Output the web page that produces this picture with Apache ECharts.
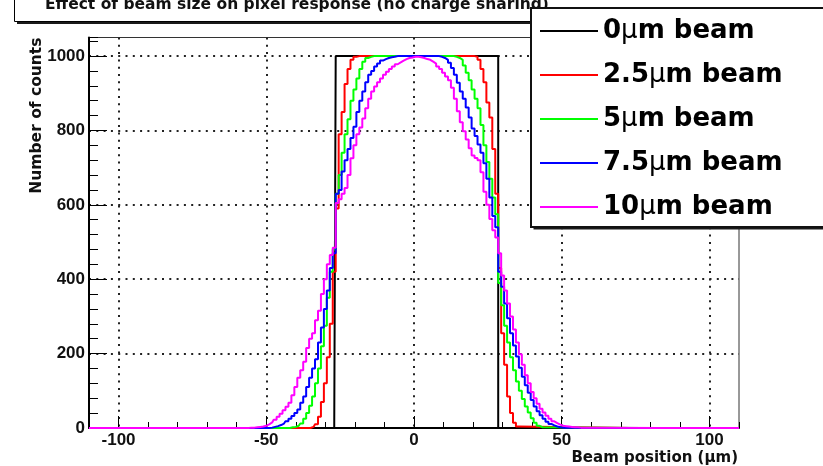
<!DOCTYPE html>
<html>
<head>
<meta charset="utf-8">
<script src="https://cdn.jsdelivr.net/npm/echarts@6/dist/echarts.min.js"></script>
<style>
  html, body { margin: 0; padding: 0; background: #ffffff; }
  #chart { width: 823px; height: 466px; }
</style>
</head>
<body>
<div id="chart"></div>
<script>
// ---- texts ----
const chartTitle = 'Effect of beam size on pixel response (no charge sharing)';
const xAxisTitle = 'Beam position (μm)';
const yAxisTitle = 'Number of counts';

// ---- axis ranges and tick steps ----
const xRange = [-110, 110];
const yRange = [0, 1050];
const xLabelRange = [-100, 100];
const xLabelStep = 50;
const xMinorStep = 10;
const yLabelRange = [0, 1000];
const yLabelStep = 200;
const yMinorStep = 40;

// ---- histograms: 1 um bins, value = counts per bin; bins outside each list are empty ----
const beamNames = ['0μm beam', '2.5μm beam', '5μm beam', '7.5μm beam', '10μm beam'];
const beamColors = ['#000000', '#ff0000', '#00ff00', '#0000ff', '#ff00ff'];

const beam0Start = -26;
const beam0 = [
  1000,1000,1000,1000,1000,1000,1000,1000,1000,1000,
  1000,1000,1000,1000,1000,1000,1000,1000,1000,1000,
  1000,1000,1000,1000,1000,1000,1000,1000,1000,1000,
  1000,1000,1000,1000,1000,1000,1000,1000,1000,1000,
  1000,1000,1000,1000,1000,1000,1000,1000,1000,1000,
  1000,1000,1000,1000,1000
];

const beam25Start = -34;
const beam25 = [
  3,10,30,70,120,190,280,420,
  590,790,850,925,965,990,998,
  1000,1000,1000,1000,1000,1000,1000,1000,1000,1000,
  1000,1000,1000,1000,1000,1000,1000,1000,1000,1000,
  1000,1000,1000,1000,1000,1000,1000,1000,1000,1000,
  1000,1000,1000,1000,1000,1000,1000,1000,1000,1000,
  998,990,965,930,875,835,750,630,
  430,255,170,85,40,14,4
];

const beam5Start = -41;
const beam5 = [
  2,3,6,12,25,40,60,85,120,160,220,275,350,420,480,
  630,680,740,790,830,880,910,940,965,985,995,998,
  1000,1000,1000,1000,1000,1000,1000,1000,1000,1000,
  1000,1000,1000,1000,1000,1000,1000,1000,1000,1000,
  1000,1000,1000,1000,1000,1000,1000,1000,
  998,995,990,975,955,935,910,885,860,815,760,715,670,620,575,
  390,330,275,230,190,155,125,100,78,58,42,26,14,6,2
];

const beam75Start = -48;
const beam75 = [
  1,3,5,8,12,18,25,32,40,50,68,85,110,135,160,185,230,270,320,370,430,470,
  630,640,690,720,750,780,810,850,880,905,930,950,960,972,980,988,992,995,997,998,
  1000,1000,1000,1000,1000,1000,1000,1000,1000,1000,1000,1000,1000,1000,1000,
  998,995,990,982,968,950,928,905,885,862,835,805,785,762,740,712,670,620,570,540,
  420,380,335,295,255,222,192,162,138,115,95,75,58,45,34,25,17,11,7,4,2,1
];

const beam10Start = -55;
const beam10 = [
  1,1,2,3,4,6,10,15,22,30,38,48,57,68,88,110,135,155,178,215,240,255,290,315,360,400,440,465,485,
  605,615,630,645,680,725,760,790,808,832,860,885,905,918,930,940,950,958,965,972,
  978,983,988,992,995,996,998,998,997,995,992,990,985,980,972,965,955,945,935,915,
  885,852,822,798,776,752,733,726,720,688,635,600,562,532,512,
  470,410,370,335,300,265,230,198,170,142,120,97,80,65,52,42,33,25,18,13,9,6,5,4,3,2,2,1,1
];

const beamStarts = [beam0Start, beam25Start, beam5Start, beam75Start, beam10Start];
const beamCounts = [beam0, beam25, beam5, beam75, beam10];

// turn a list of bin counts into step-line points, empty bins reaching to the axis range ends
function histPoints(start, counts) {
  const pts = [[xRange[0], 0], [start - 1, 0]];
  counts.forEach((c, i) => pts.push([start + i, c]));
  pts.push([start + counts.length, 0], [xRange[1], 0]);
  return pts;
}

// ---- layout of the frame ----
const W = 823, H = 466;
const frame = { left: 89, right: 84, top: 37.5, bottom: 38 };
const pxX = (W - frame.left - frame.right) / (xRange[1] - xRange[0]);
const pxY = (H - frame.top - frame.bottom) / (yRange[1] - yRange[0]);

const labelFont = { fontFamily: 'Arial', fontWeight: 'bold', fontSize: 17, color: '#111',
                    formatter: v => String(v) };
const dotted = { color: '#222', width: 2, type: [2, 5.3] };

const chart = echarts.init(document.getElementById('chart'), null, { renderer: 'canvas' });

chart.setOption({
  animation: false,
  backgroundColor: '#ffffff',
  grid: [
    // data frame
    { left: frame.left, right: frame.right, top: frame.top, bottom: frame.bottom,
      show: true, borderColor: '#333', borderWidth: 1, backgroundColor: 'transparent' },
    // labelled x ticks and vertical grid lines
    { left: frame.left + (xLabelRange[0] - xRange[0]) * pxX,
      right: frame.right + (xRange[1] - xLabelRange[1]) * pxX,
      top: frame.top, bottom: frame.bottom },
    // labelled y ticks and horizontal grid lines
    { left: frame.left, right: frame.right,
      top: frame.top + (yRange[1] - yLabelRange[1]) * pxY, bottom: frame.bottom }
  ],
  xAxis: [
    { gridIndex: 0, type: 'value', min: xRange[0], max: xRange[1], interval: xMinorStep,
      axisLine: { show: true, onZero: false, lineStyle: { color: '#000', width: 2 } },
      axisTick: { show: true, inside: true, length: 6, lineStyle: { color: '#000', width: 1 } },
      axisLabel: { show: false }, splitLine: { show: false } },
    { gridIndex: 1, type: 'value', min: xLabelRange[0], max: xLabelRange[1], interval: xLabelStep,
      axisLine: { show: false },
      axisTick: { show: true, inside: true, length: 12, lineStyle: { color: '#000', width: 1 } },
      axisLabel: Object.assign({ show: true, margin: 4 }, labelFont),
      splitLine: { show: true, lineStyle: dotted } },
    { gridIndex: 2, type: 'value', min: 0, max: 1, show: false }
  ],
  yAxis: [
    { gridIndex: 0, type: 'value', min: yRange[0], max: yRange[1], interval: yMinorStep,
      axisLine: { show: true, onZero: false, lineStyle: { color: '#000', width: 2 } },
      axisTick: { show: true, inside: true, length: 9, lineStyle: { color: '#000', width: 1 } },
      axisLabel: { show: false }, splitLine: { show: false } },
    { gridIndex: 1, type: 'value', min: 0, max: 1, show: false },
    { gridIndex: 2, type: 'value', min: yLabelRange[0], max: yLabelRange[1], interval: yLabelStep,
      axisLine: { show: false },
      axisTick: { show: true, inside: true, length: 18, lineStyle: { color: '#000', width: 1 } },
      axisLabel: Object.assign({ show: true, margin: 4 }, labelFont),
      splitLine: { show: true, lineStyle: dotted } }
  ],
  legend: {
    orient: 'vertical', left: 535, top: 11, z: 200,
    itemWidth: 58, itemHeight: 2, itemGap: 14, icon: 'rect', selectedMode: false,
    data: beamNames,
    formatter: n => n.replace('μ', '{mu|μ}'),
    textStyle: {
      fontFamily: 'DejaVu Sans', fontWeight: 'bold', fontSize: 26, color: '#000', lineHeight: 30,
      rich: { mu: { fontFamily: 'DejaVu Sans', fontWeight: 'normal', fontSize: 26, color: '#000' } }
    }
  },
  graphic: [
    // title pave with its shadow
    { type: 'rect', z: 100, shape: { x: 17, y: -10, width: 900, height: 34 }, style: { fill: '#1a1a1a' } },
    { type: 'rect', z: 101, shape: { x: 14.5, y: -10, width: 900, height: 31.5 },
      style: { fill: '#fff', stroke: '#000', lineWidth: 1 } },
    { type: 'text', z: 102, x: 45, y: 5,
      style: { text: chartTitle, font: 'bold 15.5px "DejaVu Sans"', fill: '#111',
               align: 'left', verticalAlign: 'middle', textAlign: 'left', textVerticalAlign: 'middle' } },
    // legend pave with its shadow
    { type: 'rect', z: 150, shape: { x: 533.5, y: 10.5, width: 320, height: 219 }, style: { fill: '#1a1a1a' } },
    { type: 'rect', z: 151, shape: { x: 531, y: 8, width: 320, height: 219 },
      style: { fill: '#fff', stroke: '#111', lineWidth: 2 } },
    // axis titles
    { type: 'text', z: 10, x: W - frame.right - 1, y: 458,
      style: { text: xAxisTitle, font: 'bold 15px "DejaVu Sans"', fill: '#111',
               align: 'right', verticalAlign: 'middle', textAlign: 'right', textVerticalAlign: 'middle' } },
    { type: 'text', z: 10, x: 37, y: frame.top, rotation: Math.PI / 2,
      style: { text: yAxisTitle, font: 'bold 15.5px "DejaVu Sans"', fill: '#111',
               align: 'right', verticalAlign: 'middle', textAlign: 'right', textVerticalAlign: 'middle' } }
  ],
  series: beamNames.map((name, k) => ({
    name: name,
    type: 'line',
    xAxisIndex: 0, yAxisIndex: 0,
    step: 'middle',
    showSymbol: false, symbol: 'none',
    color: beamColors[k],
    lineStyle: { color: beamColors[k], width: 2 },
    data: histPoints(beamStarts[k], beamCounts[k])
  }))
});
</script>
</body>
</html>
